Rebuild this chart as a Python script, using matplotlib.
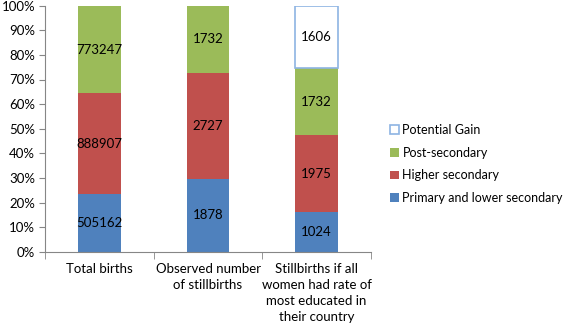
import matplotlib.pyplot as plt
import numpy as np
from matplotlib.ticker import PercentFormatter

plt.rcParams['font.family'] = ['Lato', 'DejaVu Sans']

# data
categories = ["Total births", "Observed number\nof stillbirths",
              "Stillbirths if all\nwomen had rate of\nmost educated in\ntheir country"]
series = ["Primary and lower secondary", "Higher secondary", "Post-secondary", "Potential Gain"]
primary = [505162, 1878, 1024]
higher = [888907, 2727, 1975]
post = [773247, 1732, 1732]
gain = [0, 0, 1606]

colors = ["#4F81BD", "#C0504D", "#9BBB59", "white"]
edges = ["none", "none", "none", "#8EB4E3"]

values = np.array([primary, higher, post, gain], dtype=float)
totals = values.sum(axis=0)
shares = values / totals * 100

fig = plt.figure(figsize=(5.67, 3.28), dpi=100)
ax = fig.add_axes([45/567, 1 - 251.7/328, 326/567, 246/328])

x = np.arange(len(categories))
bottom = np.zeros(len(categories))
handles = []
for i in range(len(series)):
    keep = values[i] > 0  # skip empty segments so no stray outlines
    h = ax.bar(x[keep], shares[i][keep], bottom=bottom[keep], width=0.39,
               color=colors[i], edgecolor=edges[i],
               linewidth=1.2 if i == 3 else 0, label=series[i])
    handles.append(h)
    for j in np.where(keep)[0]:
        ax.text(x[j], bottom[j] + shares[i, j] / 2, f"{int(values[i, j])}",
                ha="center", va="center", fontsize=9.5, color="black")
    bottom += shares[i]

ax.set_xlim(-0.5, 2.5)
ax.set_ylim(0, 100)
ax.set_yticks(np.arange(0, 101, 10))
ax.yaxis.set_major_formatter(PercentFormatter(decimals=0))
ax.set_xticks(x)
ax.set_xticklabels(categories, fontsize=9.5, linespacing=1.4)
ax.set_xticks([-0.5, 0.5, 1.5, 2.5], minor=True)
ax.tick_params(axis='x', which='major', length=0, pad=8)
ax.tick_params(axis='x', which='minor', length=5, color="#868686")
ax.tick_params(axis='y', length=4, color="#868686", labelsize=9.5, pad=3)

for s in ["top", "right"]:
    ax.spines[s].set_visible(False)
for s in ["left", "bottom"]:
    ax.spines[s].set_color("#868686")

leg = ax.legend(handles[::-1], series[::-1], loc="upper left",
                bbox_to_anchor=(385/567, 1 - 119/328), bbox_transform=fig.transFigure,
                frameon=False, fontsize=9, handlelength=0.7, handleheight=0.7,
                handletextpad=0.3, labelspacing=0.85, borderaxespad=0)

fig.savefig("out.png", dpi=100)
